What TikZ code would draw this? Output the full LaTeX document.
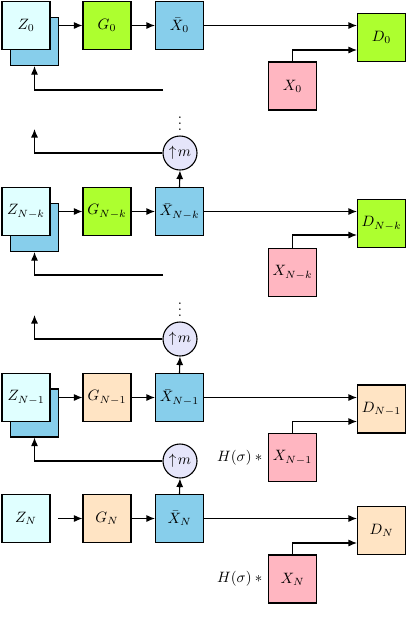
\documentclass[tikz,border=0pt]{standalone}
\usepackage[svgnames]{xcolor}
\usepackage{graphicx}
\usetikzlibrary{arrows.meta}
\newcommand{\bt}[1]{\scalebox{1.5}{$#1$}}
\begin{document}
\begin{tikzpicture}[x=1pt,y=-1pt,
  box/.style={draw=black,line width=1.1pt,minimum width=48pt,minimum height=48pt,inner sep=0pt},
  zf/.style={box,fill=LightCyan},
  zb/.style={box,fill=SkyBlue},
  xbar/.style={box,fill=SkyBlue},
  gre/.style={box,fill=GreenYellow},
  bis/.style={box,fill=Bisque},
  pink/.style={box,fill=LightPink},
  upm/.style={circle,draw=black,line width=1.1pt,fill=Lavender,minimum size=34pt,inner sep=0pt},
  lbl/.style={inner sep=2pt},
  arr/.style={line width=1.1pt,-{Latex[length=8.5pt,width=7pt]}}
]
\useasboundingbox (0,0) rectangle (408,638);

% ---------- Row 0 ----------
\node[zb] (zb0) at (34.5,41.5) {};
\node[zf] (z0) at (26,25.5) {\bt{Z_0}};
\node[gre] (g0) at (107,25.5) {\bt{G_0}};
\node[xbar] (xb0) at (179.5,25.5) {\bt{\bar{X}_0}};
\node[gre] (d0) at (381.5,37.5) {\bt{D_0}};
\node[pink] (x0) at (292.5,86) {\bt{X_0}};
\coordinate (fb0) at (163,90);
\draw[arr] (zb0.east |- g0.west) -- (g0.west);
\draw[arr] (g0.east) -- (xb0.west);
\draw[arr] (xb0.east) -- (d0.west |- xb0.east);
\draw[arr] (x0.north) |- ([yshift=-12.5pt]d0.west);
\draw[arr] (fb0) -| (zb0.south);

% ---------- Row N-k ----------
\node[lbl] (dots1) at (180,119) {\bt{\vdots}};
\node[upm] (up1) at (180,153) {\bt{\uparrow\! m}};
\coordinate (ek) at (34.5,129);
\node[zb] (zbk) at (34.5,227.5) {};
\node[zf] (zk) at (26,211.5) {\bt{Z_{N-k}}};
\node[gre] (gk) at (107,211.5) {\bt{G_{N-k}}};
\node[xbar] (xbk) at (179.5,211.5) {\bt{\bar{X}_{N-k}}};
\node[gre] (dk) at (381.5,223.5) {\bt{D_{N-k}}};
\node[pink] (xk) at (292.5,272.5) {\bt{X_{N-k}}};
\coordinate (fbk) at (163,275);
\draw[arr] (zbk.east |- gk.west) -- (gk.west);
\draw[arr] (gk.east) -- (xbk.west);
\draw[arr] (xbk.east) -- (dk.west |- xbk.east);
\draw[arr] (xk.north) |- ([yshift=-11.5pt]dk.west);
\draw[arr] (fbk) -| (zbk.south);
\draw[arr] (xbk.north) -- (up1.south);
\draw[arr] (up1.west) -| (ek);

% ---------- Row N-1 ----------
\node[lbl] (dots2) at (180,305) {\bt{\vdots}};
\node[upm] (up2) at (180,339) {\bt{\uparrow\! m}};
\coordinate (e1) at (34.5,315);
\node[zb] (zb1) at (34.5,413) {};
\node[zf] (z1) at (26,397.5) {\bt{Z_{N-1}}};
\node[bis] (g1) at (107,397.5) {\bt{G_{N-1}}};
\node[xbar] (xb1) at (179.5,397.5) {\bt{\bar{X}_{N-1}}};
\node[bis] (d1) at (381.5,409) {\bt{D_{N-1}}};
\node[pink] (x1) at (292.5,457.5) {\bt{X_{N-1}}};
\node[lbl,anchor=east] (h1) at (x1.west) {\bt{H(\sigma)\ast{}}};
\node[upm] (up3) at (180,461) {\bt{\uparrow\! m}};
\draw[arr] (zb1.east |- g1.west) -- (g1.west);
\draw[arr] (g1.east) -- (xb1.west);
\draw[arr] (xb1.east) -- (d1.west |- xb1.east);
\draw[arr] (x1.north) |- ([yshift=-12.5pt]d1.west);
\draw[arr] (xb1.north) -- (up2.south);
\draw[arr] (up2.west) -| (e1);
\draw[arr] (up3.west) -| (zb1.south);

% ---------- Row N ----------
\node[zf] (zn) at (26,518.5) {\bt{Z_N}};
\coordinate (sn) at (58,518.5);
\node[bis] (gn) at (107,518.5) {\bt{G_N}};
\node[xbar] (xbn) at (179.5,518.5) {\bt{\bar{X}_N}};
\node[bis] (dn) at (381.5,530.5) {\bt{D_N}};
\node[pink] (xn) at (292.5,579) {\bt{X_N}};
\node[lbl,anchor=east] (hn) at (xn.west) {\bt{H(\sigma)\ast{}}};
\draw[arr] (sn) -- (gn.west);
\draw[arr] (gn.east) -- (xbn.west);
\draw[arr] (xbn.east) -- (dn.west |- xbn.east);
\draw[arr] (xn.north) |- ([yshift=-12.5pt]dn.west);
\draw[arr] (xbn.north) -- (up3.south);
\end{tikzpicture}
\end{document}
